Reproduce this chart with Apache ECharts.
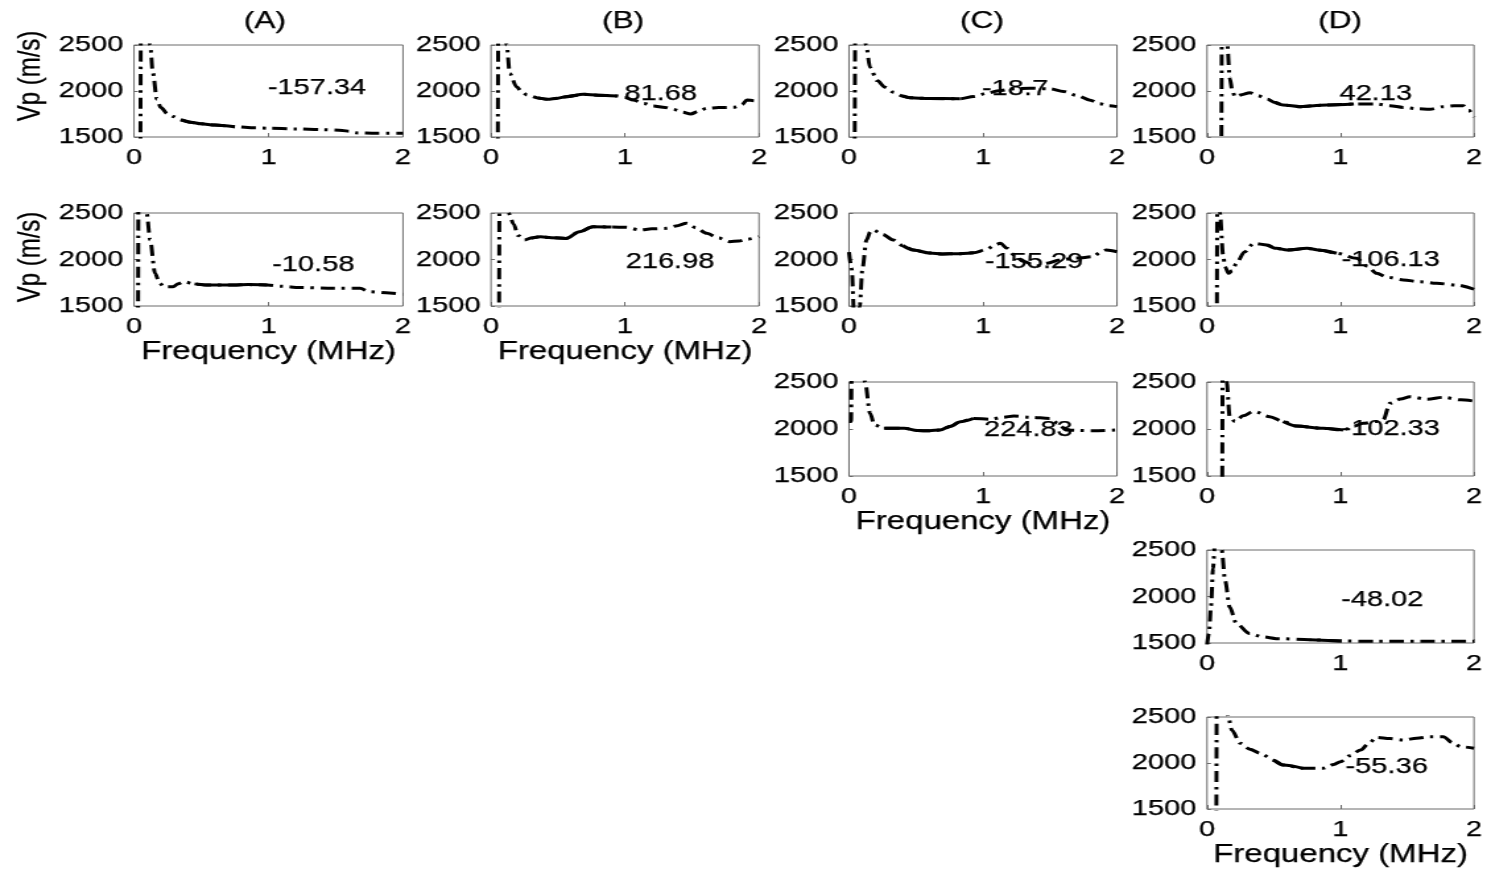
<!DOCTYPE html>
<html>
<head>
<meta charset="utf-8">
<title>Vp vs Frequency</title>
<script src="https://cdn.jsdelivr.net/npm/echarts@6.0.0/dist/echarts.min.js"></script>
<style>
  html, body { margin: 0; padding: 0; background: #fff; overflow: hidden; }
  #wrap { width: 1487px; height: 872px; overflow: hidden; }
  /* the figure is drawn narrow and widened horizontally */
  #chart { width: 1127px; height: 872px; transform: scaleX(1.319432); transform-origin: 0 0; }
</style>
</head>
<body>
<div id="wrap"><div id="chart"></div></div>
<script>
// ---- phase velocity curves (frequency in MHz, Vp in m/s) ----
const freqA1 = [0, 0.045, 0.055, 0.08, 0.12, 0.14, 0.17, 0.2, 0.25, 0.29, 0.35, 0.42, 0.5, 0.6, 0.75, 0.9, 1.0, 1.2, 1.4, 1.55, 1.6, 1.65, 1.8, 2.0];
const vpA1   = [800, 900, 4000, 3200, 2500, 2200, 1910, 1820, 1750, 1723, 1685, 1660, 1643, 1630, 1612, 1600, 1595, 1588, 1580, 1572, 1562, 1545, 1540, 1540];

const freqB1 = [0, 0.048, 0.058, 0.09, 0.117, 0.14, 0.19, 0.23, 0.27, 0.35, 0.42, 0.5, 0.56, 0.69, 0.8, 0.94, 1.0, 1.06, 1.14, 1.21, 1.3, 1.36, 1.43, 1.49, 1.55, 1.61, 1.7, 1.81, 1.87, 1.91, 1.96, 2.0];
const vpB1   = [800, 900, 4000, 3000, 2500, 2190, 2047, 1990, 1957, 1925, 1910, 1922, 1938, 1964, 1955, 1946, 1930, 1902, 1865, 1837, 1820, 1801, 1770, 1750, 1780, 1812, 1820, 1823, 1850, 1902, 1895, 1880];

const freqC1 = [0, 0.04, 0.05, 0.09, 0.127, 0.157, 0.21, 0.27, 0.33, 0.4, 0.455, 0.6, 0.83, 0.93, 1.03, 1.12, 1.22, 1.35, 1.5, 1.6, 1.7, 1.8, 1.87, 1.94, 2.0];
const vpC1   = [800, 900, 4000, 3200, 2500, 2256, 2113, 2040, 1987, 1945, 1927, 1918, 1916, 1940, 1976, 2003, 2023, 2030, 2023, 1995, 1952, 1900, 1862, 1840, 1830];

const freqD1 = [0, 0.105, 0.115, 0.13, 0.152, 0.17, 0.19, 0.21, 0.26, 0.32, 0.38, 0.45, 0.51, 0.57, 0.7, 0.8, 0.9, 1.1, 1.27, 1.37, 1.47, 1.57, 1.67, 1.77, 1.85, 1.92, 1.96, 2.0];
const vpD1   = [800, 900, 4000, 3200, 2500, 2141, 2000, 1936, 1960, 1982, 1950, 1912, 1875, 1848, 1830, 1840, 1848, 1858, 1859, 1840, 1822, 1808, 1801, 1830, 1840, 1840, 1790, 1717];

const freqA2 = [0, 0.028, 0.036, 0.07, 0.094, 0.12, 0.156, 0.19, 0.22, 0.29, 0.33, 0.37, 0.45, 0.54, 0.74, 0.85, 0.99, 1.1, 1.23, 1.48, 1.68, 1.75, 1.9, 2.0];
const vpA2   = [800, 900, 4000, 3000, 2500, 2210, 1852, 1750, 1708, 1708, 1740, 1761, 1738, 1726, 1726, 1730, 1726, 1712, 1699, 1690, 1690, 1654, 1640, 1627];

const freqB2 = [0, 0.058, 0.066, 0.1, 0.13, 0.17, 0.2, 0.25, 0.3, 0.37, 0.45, 0.56, 0.66, 0.76, 0.9, 1.01, 1.11, 1.2, 1.31, 1.38, 1.46, 1.53, 1.61, 1.7, 1.78, 1.85, 1.91, 2.0];
const vpB2   = [800, 900, 4000, 3200, 2500, 2380, 2260, 2210, 2230, 2245, 2235, 2227, 2299, 2353, 2350, 2346, 2317, 2330, 2335, 2360, 2389, 2340, 2281, 2230, 2192, 2200, 2217, 2245];

const freqC2 = [0, 0.02, 0.04, 0.06, 0.08, 0.1, 0.13, 0.16, 0.18, 0.25, 0.33, 0.4, 0.48, 0.6, 0.7, 0.8, 0.93, 1.03, 1.08, 1.13, 1.18, 1.23, 1.3, 1.4, 1.48, 1.57, 1.7, 1.82, 1.88, 1.92, 2.0];
const vpC2   = [2080, 1900, 1350, 1250, 1500, 1900, 2210, 2300, 2317, 2270, 2210, 2150, 2102, 2070, 2059, 2062, 2073, 2109, 2150, 2174, 2120, 2048, 1980, 1930, 1960, 1995, 2015, 2030, 2080, 2102, 2084];

const freqD2 = [0, 0.072, 0.08, 0.09, 0.097, 0.12, 0.135, 0.16, 0.19, 0.22, 0.28, 0.35, 0.45, 0.52, 0.6, 0.75, 0.85, 0.97, 1.12, 1.2, 1.27, 1.35, 1.47, 1.6, 1.72, 1.87, 2.0];
const vpD2   = [800, 900, 4000, 3000, 2500, 2050, 1923, 1852, 1880, 1959, 2080, 2174, 2156, 2120, 2102, 2120, 2100, 2067, 2013, 1930, 1852, 1810, 1780, 1760, 1744, 1726, 1680];

const freqC3 = [0, 0.015, 0.025, 0.07, 0.12, 0.157, 0.19, 0.26, 0.41, 0.51, 0.6, 0.68, 0.76, 0.83, 0.93, 1.05, 1.15, 1.23, 1.35, 1.5, 1.56, 1.62, 1.7, 1.82, 2.0];
const vpC3   = [2080, 2080, 4000, 3200, 2500, 2167, 2043, 2008, 2008, 1983, 1982, 1989, 2030, 2078, 2113, 2103, 2125, 2138, 2125, 2113, 2060, 1989, 1985, 1982, 1989];

const freqD3 = [0, 0.112, 0.12, 0.135, 0.147, 0.17, 0.21, 0.27, 0.35, 0.47, 0.57, 0.67, 0.87, 1.02, 1.1, 1.17, 1.27, 1.32, 1.37, 1.45, 1.52, 1.65, 1.77, 1.9, 2.0];
const vpD3   = [800, 900, 4000, 3000, 2500, 2131, 2078, 2140, 2188, 2131, 2080, 2032, 2007, 1989, 2030, 2060, 2080, 2096, 2273, 2320, 2344, 2316, 2337, 2310, 2297];

const freqD4 = [0, 0.015, 0.03, 0.045, 0.06, 0.085, 0.11, 0.135, 0.17, 0.22, 0.32, 0.42, 0.52, 0.77, 1.0, 1.27, 1.6, 2.0];
const vpD4   = [1480, 1600, 1900, 2300, 2600, 2700, 2500, 2174, 1887, 1709, 1601, 1565, 1547, 1535, 1522, 1518, 1518, 1518];

const freqD5 = [0, 0.068, 0.076, 0.12, 0.16, 0.185, 0.25, 0.32, 0.4, 0.5, 0.57, 0.72, 0.87, 0.95, 1.0, 1.07, 1.15, 1.21, 1.27, 1.37, 1.47, 1.57, 1.67, 1.77, 1.84, 1.9, 2.0];
const vpD5   = [800, 900, 4000, 3000, 2500, 2359, 2214, 2150, 2105, 2030, 1978, 1942, 1942, 1985, 2014, 2080, 2141, 2210, 2279, 2265, 2250, 2270, 2286, 2286, 2220, 2177, 2160];

// frequency band (MHz) drawn as a solid line
const bandA1 = [0.3, 0.85];
const bandB1 = [0.3, 0.95];
const bandC1 = [0.4, 0.85];
const bandD1 = [0.5, 1.1];
const bandA2 = [0.4, 1.05];
const bandB2 = [0.3, 1.0];
const bandC2 = [0.35, 0.95];
const bandD2 = [0.45, 1.0];
const bandC3 = [0.2, 1.0];
const bandD3 = [0.55, 1.05];
const bandD4 = [0.6, 1.1];
const bandD5 = [0.45, 0.85];

// annotation value and its anchor (frequency, Vp)
const noteA1 = [1.36, 2030, '-157.34'];
const noteB1 = [1.266, 1968, '81.68'];
const noteC1 = [1.239, 2020, '-18.7'];
const noteD1 = [1.264, 1965, '42.13'];
const noteA2 = [1.333, 1938, '-10.58'];
const noteB2 = [1.336, 1974, '216.98'];
const noteC2 = [1.381, 1973, '-155.29'];
const noteD2 = [1.376, 1990, '-106.13'];
const noteC3 = [1.338, 1986, '224.83'];
const noteD3 = [1.376, 2003, '-102.33'];
const noteD4 = [1.313, 1958, '-48.02'];
const noteD5 = [1.346, 1956, '-55.36'];

// axes ticks and labels
const freqTicks = [0, 1, 2];
const vpTicks = [1500, 2000, 2500];
const columnTitles = ['(A)', '(B)', '(C)', '(D)'];
const xLabel = 'Frequency (MHz)';
const yLabel = 'Vp (m/s)';

// ---- layout ----
const SX = 1487 / 1127;
const FONT = "'Liberation Sans', Arial, Helvetica, sans-serif";
const colLeft = [134, 491, 849, 1207];
const colRight = [403, 759, 1117, 1474];
const rowTop = [45, 213, 382, 550, 717];
const rowBottom = [137, 306, 476, 643, 809];
const titleX = [265, 623, 982, 1340];

const panels = [
  { col: 0, row: 0, f: freqA1, v: vpA1, band: bandA1, note: noteA1, xName: false, yName: true },
  { col: 1, row: 0, f: freqB1, v: vpB1, band: bandB1, note: noteB1, xName: false, yName: false },
  { col: 2, row: 0, f: freqC1, v: vpC1, band: bandC1, note: noteC1, xName: false, yName: false },
  { col: 3, row: 0, f: freqD1, v: vpD1, band: bandD1, note: noteD1, xName: false, yName: false },
  { col: 0, row: 1, f: freqA2, v: vpA2, band: bandA2, note: noteA2, xName: true, yName: true },
  { col: 1, row: 1, f: freqB2, v: vpB2, band: bandB2, note: noteB2, xName: true, yName: false },
  { col: 2, row: 1, f: freqC2, v: vpC2, band: bandC2, note: noteC2, xName: false, yName: false },
  { col: 3, row: 1, f: freqD2, v: vpD2, band: bandD2, note: noteD2, xName: false, yName: false },
  { col: 2, row: 2, f: freqC3, v: vpC3, band: bandC3, note: noteC3, xName: true, yName: false },
  { col: 3, row: 2, f: freqD3, v: vpD3, band: bandD3, note: noteD3, xName: false, yName: false },
  { col: 3, row: 3, f: freqD4, v: vpD4, band: bandD4, note: noteD4, xName: false, yName: false },
  { col: 3, row: 4, f: freqD5, v: vpD5, band: bandD5, note: noteD5, xName: true, yName: false }
];

const plainNumber = (val) => String(val);
const textStyle = (size) => ({ fontSize: size, color: '#000', fontFamily: FONT, textBorderColor: '#000', textBorderWidth: 0.25 });

const grids = [], xAxes = [], yAxes = [], series = [], graphics = [];

panels.forEach((p, i) => {
  const left = colLeft[p.col] / SX;
  const width = (colRight[p.col] - colLeft[p.col]) / SX;
  const top = rowTop[p.row];
  const height = rowBottom[p.row] - rowTop[p.row];

  grids.push({
    left: left, top: top, width: width, height: height,
    containLabel: false, outerBoundsMode: 'none',
    show: true, borderColor: '#6a6a6a', borderWidth: 1, backgroundColor: 'transparent'
  });

  xAxes.push({
    type: 'value', gridIndex: i,
    min: freqTicks[0], max: freqTicks[freqTicks.length - 1], interval: freqTicks[1] - freqTicks[0],
    axisLine: { show: false },
    axisTick: { show: true, inside: true, length: 4, lineStyle: { color: '#6a6a6a' } },
    splitLine: { show: false },
    axisLabel: Object.assign({ show: true, showMinLabel: true, showMaxLabel: true, margin: 10, formatter: plainNumber }, textStyle(22)),
    name: p.xName ? xLabel : '',
    nameLocation: 'middle', nameGap: 32,
    nameTextStyle: textStyle(25)
  });

  yAxes.push({
    type: 'value', gridIndex: i,
    min: vpTicks[0], max: vpTicks[vpTicks.length - 1], interval: vpTicks[1] - vpTicks[0],
    axisLine: { show: false },
    axisTick: { show: true, inside: true, length: 3, lineStyle: { color: '#6a6a6a' } },
    splitLine: { show: false },
    axisLabel: Object.assign({ show: true, showMinLabel: true, showMaxLabel: true, margin: 8, formatter: plainNumber }, textStyle(22))
  });

  const pts = p.f.map((x, k) => [x, p.v[k]]);
  const bandPts = pts.filter(d => d[0] >= p.band[0] && d[0] <= p.band[1]);

  series.push({
    type: 'line', xAxisIndex: i, yAxisIndex: i,
    data: pts, showSymbol: false, symbol: 'none',
    smooth: 0.3, smoothMonotone: 'x', clip: true, silent: true,
    lineStyle: { color: '#000', width: 3, type: [11, 5, 2.5, 5], cap: 'butt' },
    z: 3
  });
  series.push({
    type: 'line', xAxisIndex: i, yAxisIndex: i,
    data: bandPts, showSymbol: false, symbol: 'none',
    smooth: 0.3, smoothMonotone: 'x', clip: true, silent: true,
    lineStyle: { color: '#000', width: 3, type: 'solid' },
    z: 4
  });
  series.push({
    type: 'scatter', xAxisIndex: i, yAxisIndex: i,
    data: [p.note], symbol: 'circle', symbolSize: 0.01, silent: true,
    itemStyle: { color: '#000', opacity: 1 },
    label: Object.assign({
      show: true, position: 'inside', formatter: (prm) => prm.data[2], opacity: 1
    }, textStyle(22)),
    emphasis: { disabled: true },
    z: 5
  });

  if (p.yName) {
    graphics.push({
      type: 'text', x: 23, y: p.row === 0 ? 76 : 257,
      rotation: Math.PI / 2,
      style: {
        text: yLabel, fontSize: 24, fontFamily: FONT, fill: '#000', stroke: '#000', lineWidth: 0.25,
        align: 'center', verticalAlign: 'middle', textAlign: 'center', textVerticalAlign: 'middle'
      }
    });
  }
});

columnTitles.forEach((t, c) => {
  graphics.push({
    type: 'text', x: titleX[c] / SX, y: 21,
    style: {
      text: t, fontSize: 24, fontFamily: FONT, fill: '#000', stroke: '#000', lineWidth: 0.25,
      align: 'center', verticalAlign: 'middle', textAlign: 'center', textVerticalAlign: 'middle'
    }
  });
});

const chart = echarts.init(document.getElementById('chart'), null, { renderer: 'canvas' });
chart.setOption({
  animation: false,
  backgroundColor: '#fff',
  grid: grids,
  xAxis: xAxes,
  yAxis: yAxes,
  series: series,
  graphic: graphics
});
</script>
</body>
</html>
